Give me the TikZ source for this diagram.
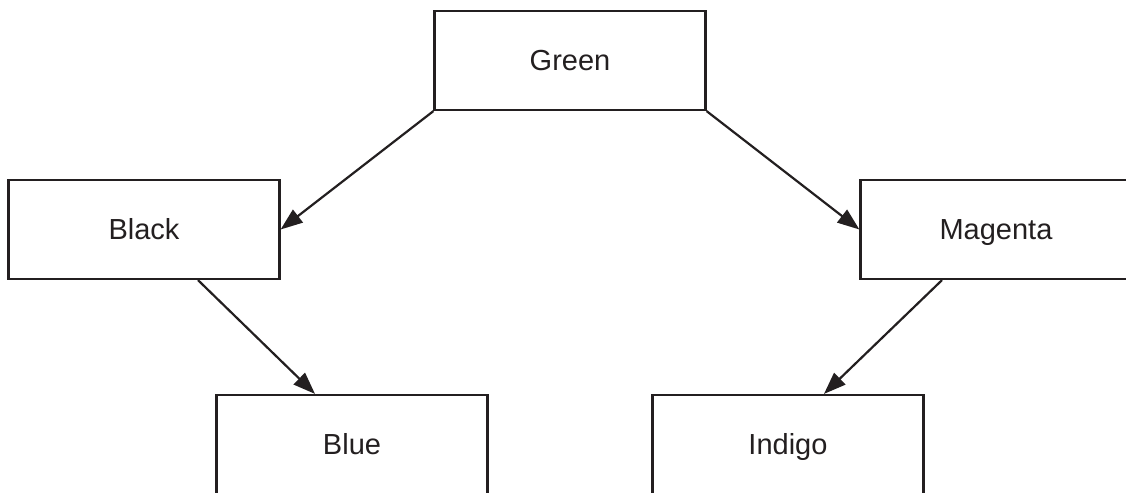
\documentclass[tikz,border=0pt]{standalone}
\usepackage{fontspec}
\setmainfont{Liberation Sans}
\usetikzlibrary{arrows.meta}
\definecolor{ink}{HTML}{231F20}
\begin{document}
\begin{tikzpicture}[x=0.5pt,y=-0.5pt,
  box/.style={draw=ink, line width=1.1pt, fill=white, minimum width=135.5pt,
    minimum height=49.5pt, inner sep=0pt, text height=10.4pt, text depth=0pt,
    text=ink, font=\fontsize{14.5pt}{17pt}\selectfont},
  link/.style={draw=ink, line width=1.1pt, -{Triangle[length=11pt,width=8pt]}}]
\useasboundingbox (0,0) rectangle (1126,493);
\clip (0,0) rectangle (1126,493);
\fill[white] (0,0) rectangle (1126,493);

\node[box] (green)   at (570,60.5)  {Green};
\node[box] (black)   at (144,229.5) {Black};
\node[box] (magenta) at (996,229.5) {Magenta};
\node[box] (blue)    at (352,444.5) {Blue};
\node[box] (indigo)  at (788,444.5) {Indigo};

\draw[link] (green.south west) -- (black.east);
\draw[link] (green.south east) -- (magenta.west);
\draw[link] ([xshift=27pt]black.south) -- ([xshift=-18.5pt]blue.north);
\draw[link] ([xshift=-27pt]magenta.south) -- ([xshift=18pt]indigo.north);
\end{tikzpicture}
\end{document}
